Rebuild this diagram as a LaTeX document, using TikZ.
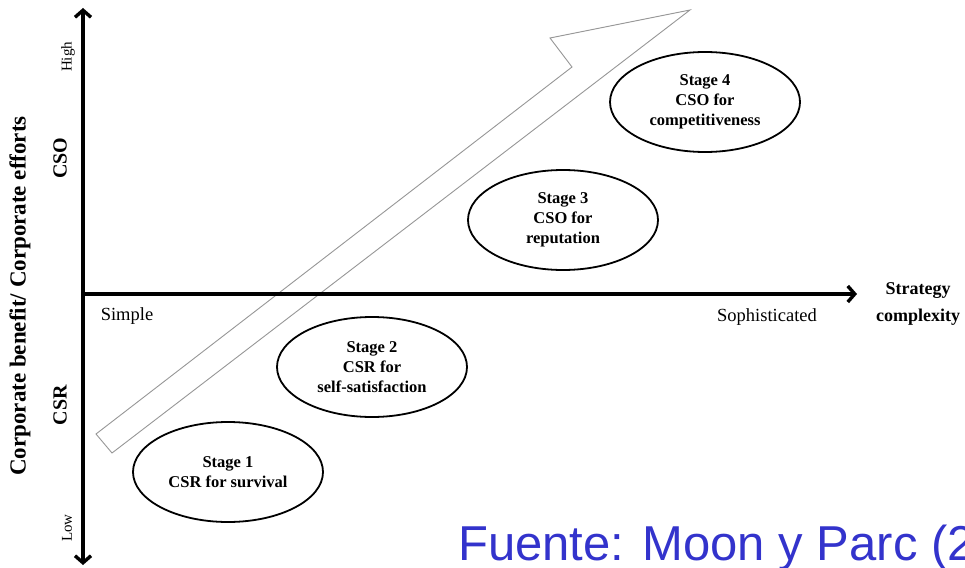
\documentclass[tikz,border=0pt]{standalone}
\usepackage{fontspec}
\setmainfont{Liberation Serif}
\newfontfamily\footfont{Liberation Sans}
\usetikzlibrary{arrows.meta,shapes.geometric}
\definecolor{srcblue}{RGB}{51,51,204}
\definecolor{trendgray}{RGB}{150,150,150}
\tikzset{
  axis/.style={line width=3.4pt, arrows={Straight Barb[length=7pt,width=16pt]-Straight Barb[length=7pt,width=16pt]}},
  axisone/.style={line width=3.4pt, -{Straight Barb[length=7pt,width=16pt]}},
  stagebox/.style={draw, line width=1.8pt, ellipse, minimum width=190pt, minimum height=100pt,
    inner sep=0pt, align=center, font=\bfseries\fontsize{16.5}{20}\selectfont},
  trend/.style={draw=trendgray, line width=0.9pt, line join=miter},
  ytitle/.style={rotate=90, inner sep=0pt, font=\bfseries\fontsize{23}{27}\selectfont},
  zone/.style={rotate=90, inner sep=0pt, font=\bfseries\fontsize{20}{24}\selectfont},
  level/.style={rotate=90, inner sep=0pt, font=\fontsize{15}{18}\selectfont},
  endlbl/.style={inner sep=0pt, font=\fontsize{18.5}{22}\selectfont},
  xtitle/.style={inner sep=0pt, align=center, font=\bfseries\fontsize{18}{27}\selectfont},
  source/.style={inner sep=0pt, anchor=base west, text=srcblue, font=\footfont\fontsize{49}{58}\selectfont}
}
\begin{document}
\begin{tikzpicture}[x=1pt, y=-1pt]
\useasboundingbox (0,0) rectangle (965,567);
\clip (0,0) rectangle (965,567);

% trend arrow (outline only)
\coordinate (tailA) at (96,434);
\coordinate (notch) at (572,67);
\coordinate (barb) at (550,38);
\coordinate (tip) at (690,10);
\coordinate (tailB) at (112,453);
\draw[trend] (tailA) -- (notch) -- (barb) -- (tip) -- (tailB) -- cycle;

% axes
\coordinate (O) at (83,294);
\coordinate (ytop) at (83,8);
\coordinate (ybot) at (83,565);
\coordinate (xend) at (857,294);
\draw[axis] (ybot) -- (ytop);
\draw[axisone] (O) -- (xend);

% stages
\node[stagebox] (s1) at (228,472) {Stage 1\\CSR for survival};
\node[stagebox] (s2) at (372,367) {Stage 2\\CSR for\\self-satisfaction};
\node[stagebox] (s3) at (563,220) {Stage 3\\CSO for\\reputation};
\node[stagebox] (s4) at (705,102) {Stage 4\\CSO for\\competitiveness};

% axis labels
\node[ytitle] (ylab) at (20,296) {Corporate benefit/ Corporate efforts};
\node[zone] (cso) at (60,158) {CSO};
\node[zone] (csr) at (60,405) {CSR};
\node[level] (high) at (68,57) {High};
\node[level] (low) at (67,528) {Low};
\node[endlbl] (simple) at (127,316) {Simple};
\node[endlbl] (soph) at (767,317) {Sophisticated};
\node[xtitle] (xlab) at (918,304) {Strategy\\complexity};

% source
\node[source] (src) at (458,560) {Fuente: Moon y Parc (2};
\end{tikzpicture}
\end{document}
